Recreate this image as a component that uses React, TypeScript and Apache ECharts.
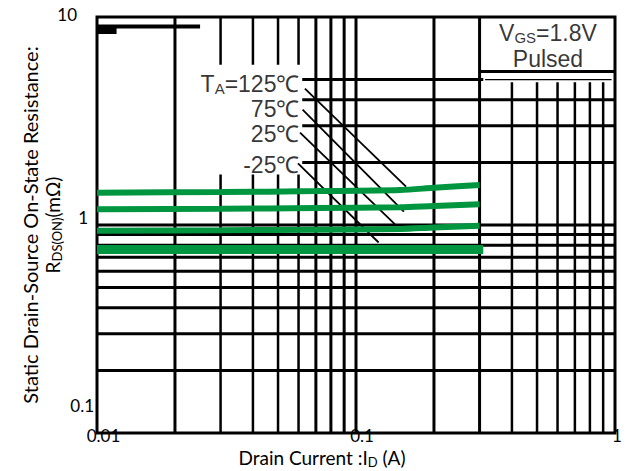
import React, { useEffect, useRef } from "react";
import * as echarts from "echarts";

// ---- axes ----
const xTicks = [0.01, 0.1, 1];
const xTickLabels = ["0.01", "0.1", "1"];
const yTicks = [0.1, 1, 10];
const yTickLabels = ["0.1", "1", "10"];

// ---- measured curves: drain current (A) vs RDS(ON) (mΩ) ----
const current = [0.01, 0.03, 0.07, 0.148, 0.2, 0.3];
const rds125 = [1.43, 1.44, 1.455, 1.473, 1.51, 1.557];
const rds75 = [1.19, 1.197, 1.206, 1.216, 1.235, 1.257];
const rds25 = [0.939, 0.944, 0.95, 0.957, 0.973, 0.992];
const currentM25 = [0.01, 0.31];
const rdsM25 = [0.762, 0.762];

// ---- temperature labels and leader lines ----
const tempNames = ["125℃", "75℃", "25℃", "-25℃"];
const tempLabelX = 0.0613;
const tempLabelY = [4.77, 3.61, 2.74, 1.95];
const leaderStartX = [0.0635, 0.0622, 0.0608, 0.0597];
const leaderStartY = [4.53, 3.59, 2.78, 1.976];
const leaderEndX = [0.156, 0.153, 0.1415, 0.1223];
const leaderEndY = [1.53, 1.16, 1.006, 0.824];

// ---- legend box ----
const boxTexts = ["VGS=1.8V", "Pulsed"];
const boxTextX = 0.551;
const boxTextY = [8.38, 6.3];
const boxLeft = 0.3;
const boxBottom = 5.47;

// ---- datasheet grid ----
const vLinesFull = [0.02, 0.07, 0.08, 0.09, 0.1, 0.2, 0.3];
const vLinesSplit = [0.03, 0.04, 0.05, 0.06];
const vSplitGap = [1.75, 5.9];
const vLinesRight = [0.4, 0.5, 0.6, 0.7, 0.8, 0.9];
const vRightTop = 4.85;
const hLinesFull = [0.2, 0.3, 0.4, 0.5, 0.6, 0.7, 0.8, 0.9, 1];
const hLinesRight = [2, 3, 4];
const hLabelEdge = 0.062;
const hFive = 5;
const hNine = 9;
const hNineEnd = 0.025;

const GREEN = "#009640";
const BLACK = "#000";
const FONT_AX = "Lato";
const FONT_IN = "Liberation Sans";

function seg(coords: number[][], width: number, z = 1, color = BLACK) {
  return {
    type: "line",
    data: coords,
    symbol: "none",
    silent: true,
    z,
    lineStyle: { color, width, cap: "butt" },
    animation: false,
  };
}

function near(a: number, b: number) {
  return Math.abs(Math.log10(a) - Math.log10(b)) < 1e-6;
}

function buildOption() {
  const series: any[] = [];
  // vertical grid
  vLinesFull.forEach((x) => series.push(seg([[x, 0.1], [x, 10]], 3)));
  vLinesSplit.forEach((x) => {
    series.push(seg([[x, 0.1], [x, vSplitGap[0]]], 2.5));
    series.push(seg([[x, vSplitGap[1]], [x, 10]], 2.5));
  });
  vLinesRight.forEach((x) => series.push(seg([[x, 0.1], [x, vRightTop]], 2.5)));
  // horizontal grid
  hLinesFull.forEach((y) => series.push(seg([[0.01, y], [1, y]], 3)));
  hLinesRight.forEach((y) => series.push(seg([[hLabelEdge, y], [1, y]], 3)));
  series.push(seg([[hLabelEdge, hFive], [0.31, hFive]], 3));
  series.push(seg([[0.315, hFive], [0.97, hFive]], 1.2));
  series.push(seg([[0.01, hNine], [hNineEnd, hNine]], 4));
  series.push(seg([[0.01, 8.6], [0.0119, 8.6]], 7));
  // legend box bottom
  series.push(seg([[boxLeft, boxBottom], [1, boxBottom]], 3));
  // leader lines
  leaderStartX.forEach((x, i) =>
    series.push(seg([[x, leaderStartY[i]], [leaderEndX[i], leaderEndY[i]]], 1.8, 2))
  );
  // curves
  const curve = (xs: number[], ys: number[], w: number) => ({
    type: "line",
    data: xs.map((x, i) => [x, ys[i]]),
    symbol: "none",
    smooth: 0.3,
    z: 5,
    lineStyle: { color: GREEN, width: w, cap: "butt" },
    animation: false,
  });
  series.push(curve(current, rds125, 6));
  series.push(curve(current, rds75, 6));
  series.push(curve(current, rds25, 6));
  series.push(curve(currentM25, rdsM25, 9));

  const inRich = {
    n: { fontFamily: FONT_IN, fontSize: 23, color: BLACK, lineHeight: 24 },
    s: { fontFamily: FONT_IN, fontSize: 15, color: BLACK, lineHeight: 24, verticalAlign: "bottom" },
  };

  // temperature labels
  series.push({
    type: "scatter",
    symbolSize: 1,
    itemStyle: { color: "rgba(0,0,0,0)" },
    z: 6,
    silent: true,
    data: tempLabelY.map((y) => [tempLabelX, y]),
    label: {
      show: true,
      position: "left",
      distance: 1,
      color: BLACK,
      fontFamily: FONT_IN,
      fontSize: 23,
      formatter: (p: any) =>
        p.dataIndex === 0
          ? "{n|T}{s|A}{n|=" + tempNames[0] + "}"
          : "{n|" + tempNames[p.dataIndex] + "}",
      rich: inRich,
    },
  });
  // legend box texts
  series.push({
    type: "scatter",
    symbolSize: 1,
    itemStyle: { color: "rgba(0,0,0,0)" },
    z: 6,
    silent: true,
    data: boxTextY.map((y) => [boxTextX, y]),
    label: {
      show: true,
      position: "inside",
      color: BLACK,
      formatter: (p: any) =>
        p.dataIndex === 0
          ? "{n|V}{s|GS}{n|" + boxTexts[0].slice(3) + "}"
          : "{n|" + boxTexts[1] + "}",
      rich: inRich,
    },
  });

  const xPad = [13, 12, 4];
  const yPad = [
    [0, 3, 56, 0],
    [0, 9, 16, 0],
    [0, 20, 6, 0],
  ];
  const xRich: any = {};
  xPad.forEach((p, i) => {
    xRich["t" + i] = { fontFamily: FONT_AX, fontSize: 17, color: BLACK, padding: [0, 0, 0, p] };
  });
  const yRich: any = {};
  yPad.forEach((p, i) => {
    yRich["t" + i] = { fontFamily: FONT_AX, fontSize: 17, color: BLACK, padding: p };
  });

  return {
    animation: false,
    backgroundColor: "#fff",
    grid: {
      left: 97,
      right: 12,
      top: 17,
      bottom: 38,
      outerBoundsMode: "none",
      containLabel: false,
      show: true,
      borderColor: BLACK,
      borderWidth: 3,
      backgroundColor: "transparent",
    },
    xAxis: {
      type: "log",
      logBase: 10,
      min: 0.01,
      max: 1,
      axisLine: { show: false },
      axisTick: { show: false },
      splitLine: { show: false },
      minorSplitLine: { show: false },
      axisLabel: {
        showMinLabel: true,
        showMaxLabel: true,
        margin: 2,
        verticalAlign: "middle",
        fontFamily: FONT_AX,
        fontSize: 17,
        color: BLACK,
        formatter: (v: number) => {
          const i = xTicks.findIndex((t) => near(t, v));
          return i < 0 ? "" : "{t" + i + "|" + xTickLabels[i] + "}";
        },
        rich: xRich,
      },
      name: "Drain Current :I{s|D} (A)",
      nameLocation: "middle",
      nameMoveOverlap: false,
      nameGap: 13,
      nameTextStyle: {
        fontFamily: FONT_AX,
        fontSize: 19,
        color: BLACK,
        lineHeight: 22,
        padding: [0, 68, 0, 0],
        rich: {
          s: { fontFamily: FONT_AX, fontSize: 13, color: BLACK, lineHeight: 22, verticalAlign: "bottom" },
        },
      },
    },
    yAxis: {
      type: "log",
      logBase: 10,
      min: 0.1,
      max: 10,
      axisLine: { show: false },
      axisTick: { show: false },
      splitLine: { show: false },
      minorSplitLine: { show: false },
      axisLabel: {
        showMinLabel: true,
        showMaxLabel: true,
        margin: 0,
        align: "right",
        verticalAlign: "middle",
        fontFamily: FONT_AX,
        fontSize: 17,
        color: BLACK,
        formatter: (v: number) => {
          const i = yTicks.findIndex((t) => near(t, v));
          return i < 0 ? "" : "{t" + i + "|" + yTickLabels[i] + "}";
        },
        rich: yRich,
      },
      name: "Static Drain-Source On-State Resistance:\n{r|R}{s|DS(ON)}{r|(mΩ)}",
      nameLocation: "middle",
      nameRotate: 90,
      nameMoveOverlap: false,
      nameGap: 34,
      nameTextStyle: {
        fontFamily: FONT_AX,
        fontSize: 20,
        color: BLACK,
        lineHeight: 22,
        rich: {
          r: { fontFamily: FONT_AX, fontSize: 19, color: BLACK, lineHeight: 22 },
          s: { fontFamily: FONT_AX, fontSize: 13, color: BLACK, lineHeight: 22, verticalAlign: "bottom" },
        },
      },
    },
    series,
  };
}

export default function App() {
  const ref = useRef<HTMLDivElement>(null);
  useEffect(() => {
    if (!ref.current) return;
    const chart = echarts.init(ref.current, null, { renderer: "svg" });
    chart.setOption(buildOption() as any);
    return () => chart.dispose();
  }, []);
  return (
    <div
      ref={ref}
      style={{ position: "fixed", left: 0, top: 0, width: 627, height: 471, background: "#fff" }}
    />
  );
}
